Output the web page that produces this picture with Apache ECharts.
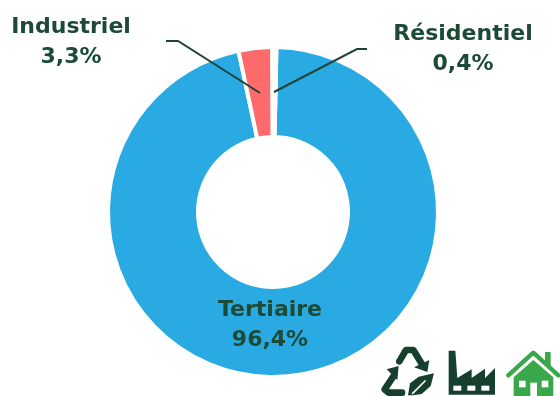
<!DOCTYPE html>
<html><head><meta charset="utf-8">
<style>html,body{margin:0;padding:0;background:#fff}#c{width:560px;height:396px}</style>
<script src="https://cdn.jsdelivr.net/npm/echarts@6/dist/echarts.min.js"></script>
</head><body><div id="c"></div>
<script>
const categories = ['Tertiaire', 'Industriel', 'Résidentiel'];
const values = [96.4, 3.3, 0.4];
const valueLabels = ['96,4%', '3,3%', '0,4%'];
const colors = ['#29aae3', '#ff6b6b', '#f2c230'];
const dark = '#1c4a37', green = '#3aa84a', icon = '#173f2d';

const chart = echarts.init(document.getElementById('c'), null, {renderer: 'canvas'});
const labelPos = [
  {x: 270, y: 325, line: null},
  {x: 71, y: 42, line: [[260, 93], [178, 41], [166, 41]]},
  {x: 463, y: 49, line: [[274, 92], [357, 49], [367, 49]]}
];
const P = (pts, o) => ({type: 'polygon', shape: {points: pts}, style: o || {fill: icon}});
const L = (pts, w, c) => ({type: 'polyline', shape: {points: pts}, style: {fill: 'none', stroke: c, lineWidth: w, lineJoin: 'round', lineCap: 'round'}});
const W = {fill: '#fff'};
const R = (x, y, w, h) => ({type: 'rect', shape: {x, y, width: w, height: h}, style: W});
const pieBase = {type: 'pie', center: [273, 212], radius: [75, 165], startAngle: 88.8, clockwise: true, silent: true};

chart.setOption({
  animation: false,
  backgroundColor: '#fff',
  series: [{
    ...pieBase,
    z: 2,
    data: categories.map((name, i) => ({name, value: values[i], itemStyle: {color: colors[i]}})),
    itemStyle: {borderColor: '#fff', borderWidth: 4},
    label: {show: false},
    labelLine: {show: false}
  }, {
    // transparent copy on top, so the leader lines run over the ring
    ...pieBase,
    z: 3,
    data: categories.map((name, i) => ({name, value: values[i]})),
    itemStyle: {color: 'transparent', borderWidth: 0},
    label: {
      show: true,
      formatter: p => p.name + '\n' + valueLabels[p.dataIndex],
      color: dark,
      fontFamily: 'DejaVu Sans',
      fontWeight: 700,
      fontSize: 22,
      lineHeight: 30,
      align: 'center'
    },
    labelLine: {show: true, lineStyle: {color: '#1f4437', width: 2}},
    labelLayout: p => {
      const c = labelPos[p.dataIndex];
      return {x: c.x, y: c.y, align: 'center', verticalAlign: 'middle',
              labelLinePoints: c.line || [[0, 0], [0, 0], [0, 0]]};
    }
  }],
  graphic: [{
    type: 'group', x: 370, y: 336, scaleX: 1 / 3, scaleY: 1 / 3,
    children: [
      // recycling arrows
      L([[88, 76], [108, 42], [130, 42], [158, 88]], 20, icon),
      P([[132, 94], [178, 72], [172, 108]]),
      L([[72, 118], [44, 160], [56, 170], [96, 170]], 20, icon),
      P([[50, 100], [86, 90], [82, 132]]),
      // leaf
      P([[114, 178], [120, 142], [146, 122], [192, 112], [182, 150], [155, 174], [130, 178]]),
      L([[128, 172], [165, 135]], 5, '#fff'),
      // factory
      P([[236, 176], [236, 44], [256, 44], [262, 126], [305, 100], [305, 126], [345, 98], [345, 126], [375, 96], [375, 176]]),
      R(250, 149, 24, 15), R(292, 149, 24, 15), R(334, 149, 24, 15),
      // house
      L([[415, 118], [490, 50], [565, 118]], 13, green),
      P([[525, 48], [542, 48], [542, 90], [525, 76]], {fill: green}),
      P([[431, 124], [490, 72], [550, 124], [550, 180], [431, 180]], {fill: green}),
      R(447, 134, 20, 20), R(515, 134, 20, 20), R(481, 140, 20, 40)
    ]
  }]
});
</script></body></html>
